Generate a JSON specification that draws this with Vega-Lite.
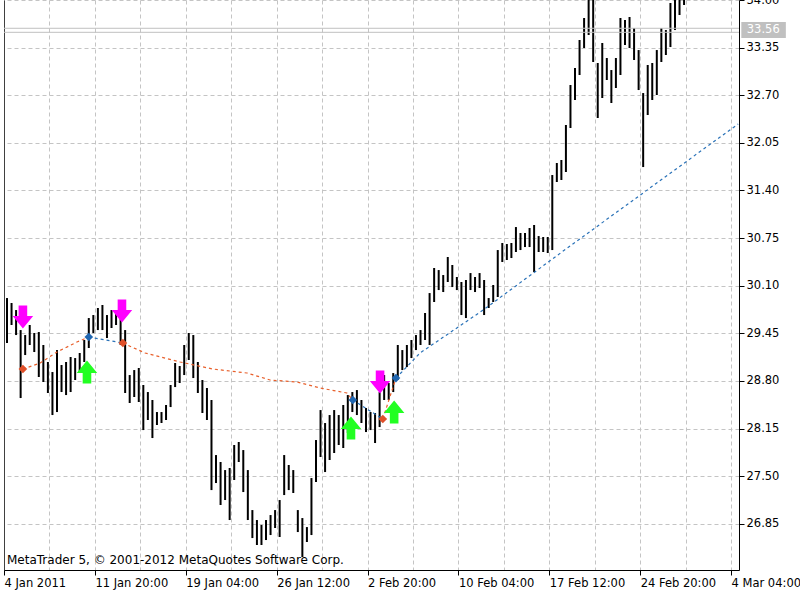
{
  "$schema": "https://vega.github.io/schema/vega-lite/v6.json",
  "autosize": {"type": "none"},
  "width": 735,
  "height": 570,
  "padding": {"left": 4, "top": 0, "right": 61, "bottom": 30},
  "background": "white",
  "config": {"view": {"stroke": null}, "font": "DejaVu Sans"},
  "datasets": {
    "bars": [
      {"i":0,"high":29.932,"low":29.318},{"i":1,"high":29.864,"low":29.564},{"i":2,"high":29.768,"low":29.427},{"i":3,"high":29.495,"low":28.567},
      {"i":4,"high":29.427,"low":29.154},{"i":5,"high":29.564,"low":29.291},{"i":6,"high":29.455,"low":29.195},{"i":7,"high":29.468,"low":28.854},
      {"i":8,"high":29.291,"low":28.786},{"i":9,"high":29.059,"low":28.636},{"i":10,"high":28.922,"low":28.335},{"i":11,"high":29.222,"low":28.376},
      {"i":12,"high":29.018,"low":28.649},{"i":13,"high":29.059,"low":28.608},{"i":14,"high":29.127,"low":28.649},{"i":15,"high":29.113,"low":28.813},
      {"i":16,"high":29.182,"low":28.922},{"i":17,"high":29.359,"low":29.059},{"i":18,"high":29.659,"low":29.25},{"i":19,"high":29.7,"low":29.455},
      {"i":20,"high":29.796,"low":29.495},{"i":21,"high":29.837,"low":29.495},{"i":22,"high":29.7,"low":29.386},{"i":23,"high":29.768,"low":29.523},
      {"i":24,"high":29.728,"low":29.564},{"i":25,"high":29.659,"low":29.291},{"i":26,"high":29.495,"low":28.636},{"i":27,"high":28.881,"low":28.499},
      {"i":28,"high":28.949,"low":28.581},{"i":29,"high":28.977,"low":28.513},{"i":30,"high":28.745,"low":28.13},{"i":31,"high":28.649,"low":28.267},
      {"i":32,"high":28.54,"low":28.021},{"i":33,"high":28.376,"low":28.199},{"i":34,"high":28.376,"low":28.226},{"i":35,"high":28.472,"low":28.267},
      {"i":36,"high":28.745,"low":28.444},{"i":37,"high":29.045,"low":28.717},{"i":38,"high":29.004,"low":28.772},{"i":39,"high":29.291,"low":28.881},
      {"i":40,"high":29.455,"low":29.086},{"i":41,"high":29.427,"low":28.84},{"i":42,"high":29.059,"low":28.636},{"i":43,"high":28.813,"low":28.363},
      {"i":44,"high":28.704,"low":28.267},{"i":45,"high":28.54,"low":27.311},{"i":46,"high":27.789,"low":27.407},{"i":47,"high":27.694,"low":27.107},
      {"i":48,"high":27.584,"low":27.175},{"i":49,"high":27.612,"low":26.902},{"i":50,"high":27.926,"low":27.448},{"i":51,"high":27.967,"low":27.694},
      {"i":52,"high":27.857,"low":27.284},{"i":53,"high":27.584,"low":26.902},{"i":54,"high":27.038,"low":26.656},{"i":55,"high":26.902,"low":26.561},
      {"i":56,"high":26.834,"low":26.561},{"i":57,"high":26.902,"low":26.629},{"i":58,"high":26.97,"low":26.697},{"i":59,"high":27.038,"low":26.793},
      {"i":60,"high":27.175,"low":26.67},{"i":61,"high":27.789,"low":27.243},{"i":62,"high":27.653,"low":27.311},{"i":63,"high":27.584,"low":27.271},
      {"i":64,"high":27.038,"low":26.738},{"i":65,"high":26.929,"low":26.397},{"i":66,"high":26.806,"low":26.602},{"i":67,"high":27.475,"low":26.697},
      {"i":68,"high":27.994,"low":27.421},{"i":69,"high":28.403,"low":27.762},{"i":70,"high":28.226,"low":27.557},{"i":71,"high":28.335,"low":27.721},
      {"i":72,"high":28.403,"low":27.817},{"i":73,"high":28.335,"low":27.926},{"i":74,"high":28.472,"low":27.885},{"i":75,"high":28.608,"low":28.09},
      {"i":76,"high":28.649,"low":28.376},{"i":77,"high":28.676,"low":28.335},{"i":78,"high":28.54,"low":28.226},{"i":79,"high":28.431,"low":28.103},
      {"i":80,"high":28.376,"low":28.13},{"i":81,"high":28.363,"low":27.953},{"i":82,"high":28.649,"low":28.171},{"i":83,"high":28.881,"low":28.54},
      {"i":84,"high":28.772,"low":28.54},{"i":85,"high":28.908,"low":28.649},{"i":86,"high":29.291,"low":28.813},{"i":87,"high":29.222,"low":28.949},
      {"i":88,"high":29.291,"low":28.99},{"i":89,"high":29.359,"low":29.113},{"i":90,"high":29.427,"low":29.222},{"i":91,"high":29.495,"low":29.291},
      {"i":92,"high":29.728,"low":29.359},{"i":93,"high":30.0,"low":29.291},{"i":94,"high":30.342,"low":29.878},{"i":95,"high":30.314,"low":30.041},
      {"i":96,"high":30.246,"low":30.014},{"i":97,"high":30.492,"low":30.151},{"i":98,"high":30.383,"low":30.082},{"i":99,"high":30.219,"low":30.041},
      {"i":100,"high":30.151,"low":29.7},{"i":101,"high":30.178,"low":29.659},{"i":102,"high":30.273,"low":30.041},{"i":103,"high":30.219,"low":30.014},
      {"i":104,"high":30.273,"low":30.069},{"i":105,"high":30.178,"low":29.7},{"i":106,"high":29.932,"low":29.796},{"i":107,"high":30.11,"low":29.878},
      {"i":108,"high":30.587,"low":29.946},{"i":109,"high":30.683,"low":30.424},{"i":110,"high":30.669,"low":30.451},{"i":111,"high":30.683,"low":30.478},
      {"i":112,"high":30.901,"low":30.56},{"i":113,"high":30.82,"low":30.587},{"i":114,"high":30.82,"low":30.628},{"i":115,"high":30.888,"low":30.628},
      {"i":116,"high":30.929,"low":30.287},{"i":117,"high":30.778,"low":30.56},{"i":118,"high":30.765,"low":30.56},{"i":119,"high":30.765,"low":30.547},
      {"i":120,"high":31.611,"low":30.587},{"i":121,"high":31.775,"low":31.516},{"i":122,"high":31.816,"low":31.543},{"i":123,"high":32.294,"low":31.652},
      {"i":124,"high":32.84,"low":32.253},{"i":125,"high":33.072,"low":32.635},{"i":126,"high":33.454,"low":32.976},{"i":127,"high":33.754,"low":33.345},
      {"i":128,"high":34.109,"low":33.522},{"i":129,"high":34.068,"low":33.154},{"i":130,"high":33.14,"low":32.389},{"i":131,"high":33.413,"low":32.662},
      {"i":132,"high":33.208,"low":32.908},{"i":133,"high":33.044,"low":32.594},{"i":134,"high":33.208,"low":32.799},{"i":135,"high":33.754,"low":32.976},
      {"i":136,"high":33.727,"low":33.386},{"i":137,"high":33.768,"low":33.345},{"i":138,"high":33.618,"low":33.181},{"i":139,"high":33.317,"low":32.771},
      {"i":140,"high":32.73,"low":31.72},{"i":141,"high":33.113,"low":32.43},{"i":142,"high":33.14,"low":32.635},{"i":143,"high":33.317,"low":32.703},
      {"i":144,"high":33.618,"low":33.154},{"i":145,"high":33.59,"low":33.249},{"i":146,"high":33.959,"low":33.358},{"i":147,"high":34.068,"low":33.59},
      {"i":148,"high":34.109,"low":33.795},{"i":149,"high":34.16,"low":33.932}
    ],
    "lines": [
      {"seg":1,"s":"A","i":3.5,"v":28.963},{"seg":1,"s":"A","i":7.3,"v":29.045},{"seg":1,"s":"A","i":11.0,"v":29.195},{"seg":1,"s":"A","i":15.4,"v":29.332},{"seg":1,"s":"A","i":18.0,"v":29.4},
      {"seg":2,"s":"B","i":18.0,"v":29.4},{"seg":2,"s":"B","i":25.5,"v":29.318},
      {"seg":3,"s":"A","i":25.5,"v":29.318},{"seg":3,"s":"A","i":30.4,"v":29.182},{"seg":3,"s":"A","i":38.1,"v":29.059},{"seg":3,"s":"A","i":45.3,"v":28.963},{"seg":3,"s":"A","i":52.8,"v":28.909},{"seg":3,"s":"A","i":57.9,"v":28.813},{"seg":3,"s":"A","i":63.8,"v":28.786},{"seg":3,"s":"A","i":68.9,"v":28.704},{"seg":3,"s":"A","i":74.8,"v":28.636},{"seg":3,"s":"A","i":76.1,"v":28.54},
      {"seg":4,"s":"B","i":76.1,"v":28.54},{"seg":4,"s":"B","i":82.7,"v":28.281},
      {"seg":5,"s":"A","i":82.7,"v":28.281},{"seg":5,"s":"A","i":85.6,"v":28.84},
      {"seg":6,"s":"B","i":85.6,"v":28.84},{"seg":6,"s":"B","i":90.9,"v":29.182},{"seg":6,"s":"B","i":104.8,"v":29.769},{"seg":6,"s":"B","i":122.1,"v":30.56},{"seg":6,"s":"B","i":152.1,"v":31.912},{"seg":6,"s":"B","i":160.9,"v":32.307}
    ],
    "signals": [
      {"kind":"sell","i":3.5,"v":29.673},{"kind":"sell","i":25.3,"v":29.755},{"kind":"sell","i":82.1,"v":28.786},
      {"kind":"buy","i":17.6,"v":28.922},{"kind":"buy","i":75.7,"v":28.158},{"kind":"buy","i":85.2,"v":28.376},
      {"kind":"low","i":3.5,"v":28.963},{"kind":"low","i":25.5,"v":29.318},{"kind":"low","i":82.7,"v":28.281},
      {"kind":"high","i":18.0,"v":29.4},{"kind":"high","i":76.1,"v":28.54},{"kind":"high","i":85.6,"v":28.84}
    ],
    "levels": [{"price":33.614},{"price":33.559}],
    "notes": [{"text":"MetaTrader 5, © 2001-2012 MetaQuotes Software Corp."}],
    "bid": [{"label":"33.56"}]
  },
  "layer": [
    {
      "data": {"name": "bars"},
      "mark": {"type": "rule", "color": "#000000", "strokeWidth": 2, "clip": true},
      "encoding": {
        "x": {
          "field": "i", "type": "quantitative", "title": null,
          "scale": {"domain": [-0.66, 161.09], "zero": false, "nice": false},
          "axis": {
            "title": null,
            "values": [-0.66, 9.34, 19.34, 29.34, 39.34, 49.34, 59.34, 69.34, 79.34, 89.34, 99.34, 109.34, 119.34, 129.34, 139.34, 149.34, 159.34],
            "labelExpr": "['4 Jan 2011','','11 Jan 20:00','','19 Jan 04:00','','26 Jan 12:00','','2 Feb 20:00','','10 Feb 04:00','','17 Feb 12:00','','24 Feb 20:00','','4 Mar 04:00'][round((datum.value+0.66)/10)]",
            "labelAlign": "left", "labelBaseline": "top", "labelFlush": false, "labelOverlap": false, "labelBound": false,
            "labelPadding": 2, "labelFont": "DejaVu Sans", "labelFontSize": 11.5, "labelColor": "#000000",
            "tickSize": 5, "tickColor": "#000000",
            "tickOpacity": {"condition": {"test": "round((datum.value+0.66)/10)%2==1", "value": 0}, "value": 1},
            "domainColor": "#000000", "domainWidth": 1,
            "grid": true,
            "gridColor": {"condition": {"test": "datum.value < 0", "value": "#000000"}, "value": "#c4c4c4"},
            "gridDash": {"condition": {"test": "datum.value < 0", "value": [1, 0]}, "value": [4, 3]},
            "gridWidth": 1
          }
        },
        "y": {
          "field": "low", "type": "quantitative", "title": null,
          "scale": {"domain": [26.22, 34.0], "zero": false, "nice": false},
          "axis": {
            "title": null, "orient": "right",
            "values": [26.85, 27.5, 28.15, 28.8, 29.45, 30.1, 30.75, 31.4, 32.05, 32.7, 33.35, 34.0],
            "format": ".2f", "labelFlush": false, "labelOverlap": false,
            "labelPadding": 2, "labelFont": "DejaVu Sans", "labelFontSize": 11.5, "labelColor": "#000000",
            "tickSize": 5, "tickColor": "#000000",
            "domainColor": "#000000", "domainWidth": 1,
            "grid": true, "gridColor": "#c4c4c4", "gridDash": [4, 3], "gridWidth": 1
          }
        },
        "y2": {"field": "high"}
      }
    },
    {
      "data": {"name": "levels"},
      "mark": {"type": "rule", "color": "#c0c0c0", "strokeWidth": 1},
      "encoding": {
        "y": {"field": "price", "type": "quantitative", "title": null}
      }
    },
    {
      "data": {"name": "lines"},
      "transform": [{"filter": "datum.s == 'A'"}],
      "mark": {"type": "line", "color": "#e8602c", "strokeWidth": 1.2, "strokeDash": [3, 3]},
      "encoding": {
        "x": {"field": "i", "type": "quantitative", "title": null},
        "y": {"field": "v", "type": "quantitative", "title": null},
        "detail": {"field": "seg"}
      }
    },
    {
      "data": {"name": "lines"},
      "transform": [{"filter": "datum.s == 'B'"}],
      "mark": {"type": "line", "color": "#2a72b8", "strokeWidth": 1.2, "strokeDash": [3, 3]},
      "encoding": {
        "x": {"field": "i", "type": "quantitative", "title": null},
        "y": {"field": "v", "type": "quantitative", "title": null},
        "detail": {"field": "seg"}
      }
    },
    {
      "data": {"name": "signals"},
      "transform": [{"filter": "datum.kind == 'low'"}],
      "mark": {"type": "point", "shape": "diamond", "filled": true, "size": 75, "color": "#e0502a", "opacity": 1},
      "encoding": {
        "x": {"field": "i", "type": "quantitative", "title": null},
        "y": {"field": "v", "type": "quantitative", "title": null}
      }
    },
    {
      "data": {"name": "signals"},
      "transform": [{"filter": "datum.kind == 'high'"}],
      "mark": {"type": "point", "shape": "diamond", "filled": true, "size": 75, "color": "#2066b0", "opacity": 1},
      "encoding": {
        "x": {"field": "i", "type": "quantitative", "title": null},
        "y": {"field": "v", "type": "quantitative", "title": null}
      }
    },
    {
      "data": {"name": "signals"},
      "transform": [{"filter": "datum.kind == 'sell'"}],
      "mark": {"type": "point", "shape": "M -0.42 -1.12 L 0.42 -1.12 L 0.42 -0.1 L 1 -0.1 L 0 1.12 L -1 -0.1 L -0.42 -0.1 Z", "filled": true, "size": 420, "color": "#ff00ff", "opacity": 1},
      "encoding": {
        "x": {"field": "i", "type": "quantitative", "title": null},
        "y": {"field": "v", "type": "quantitative", "title": null}
      }
    },
    {
      "data": {"name": "signals"},
      "transform": [{"filter": "datum.kind == 'buy'"}],
      "mark": {"type": "point", "shape": "M -0.42 1.12 L 0.42 1.12 L 0.42 0.1 L 1 0.1 L 0 -1.12 L -1 0.1 L -0.42 0.1 Z", "filled": true, "size": 420, "color": "#22ff22", "opacity": 1},
      "encoding": {
        "x": {"field": "i", "type": "quantitative", "title": null},
        "y": {"field": "v", "type": "quantitative", "title": null}
      }
    },
    {
      "data": {"name": "notes"},
      "mark": {"type": "text", "align": "left", "baseline": "middle", "font": "DejaVu Sans", "fontSize": 12, "color": "#000000"},
      "encoding": {
        "x": {"datum": 0, "type": "quantitative", "title": null},
        "y": {"datum": 26.356, "type": "quantitative", "title": null},
        "text": {"field": "text"}
      }
    },
    {
      "data": {"name": "bid"},
      "mark": {"type": "rect", "color": "#c0c0c0", "clip": false},
      "encoding": {
        "x": {"datum": 161.6, "type": "quantitative", "title": null},
        "x2": {"datum": 171.4},
        "y": {"datum": 33.70, "type": "quantitative", "title": null},
        "y2": {"datum": 33.48}
      }
    },
    {
      "data": {"name": "bid"},
      "mark": {"type": "text", "align": "left", "baseline": "middle", "font": "DejaVu Sans", "fontSize": 11.5, "color": "#ffffff", "clip": false},
      "encoding": {
        "x": {"datum": 162.8, "type": "quantitative", "title": null},
        "y": {"datum": 33.59, "type": "quantitative", "title": null},
        "text": {"field": "label"}
      }
    }
  ]
}
